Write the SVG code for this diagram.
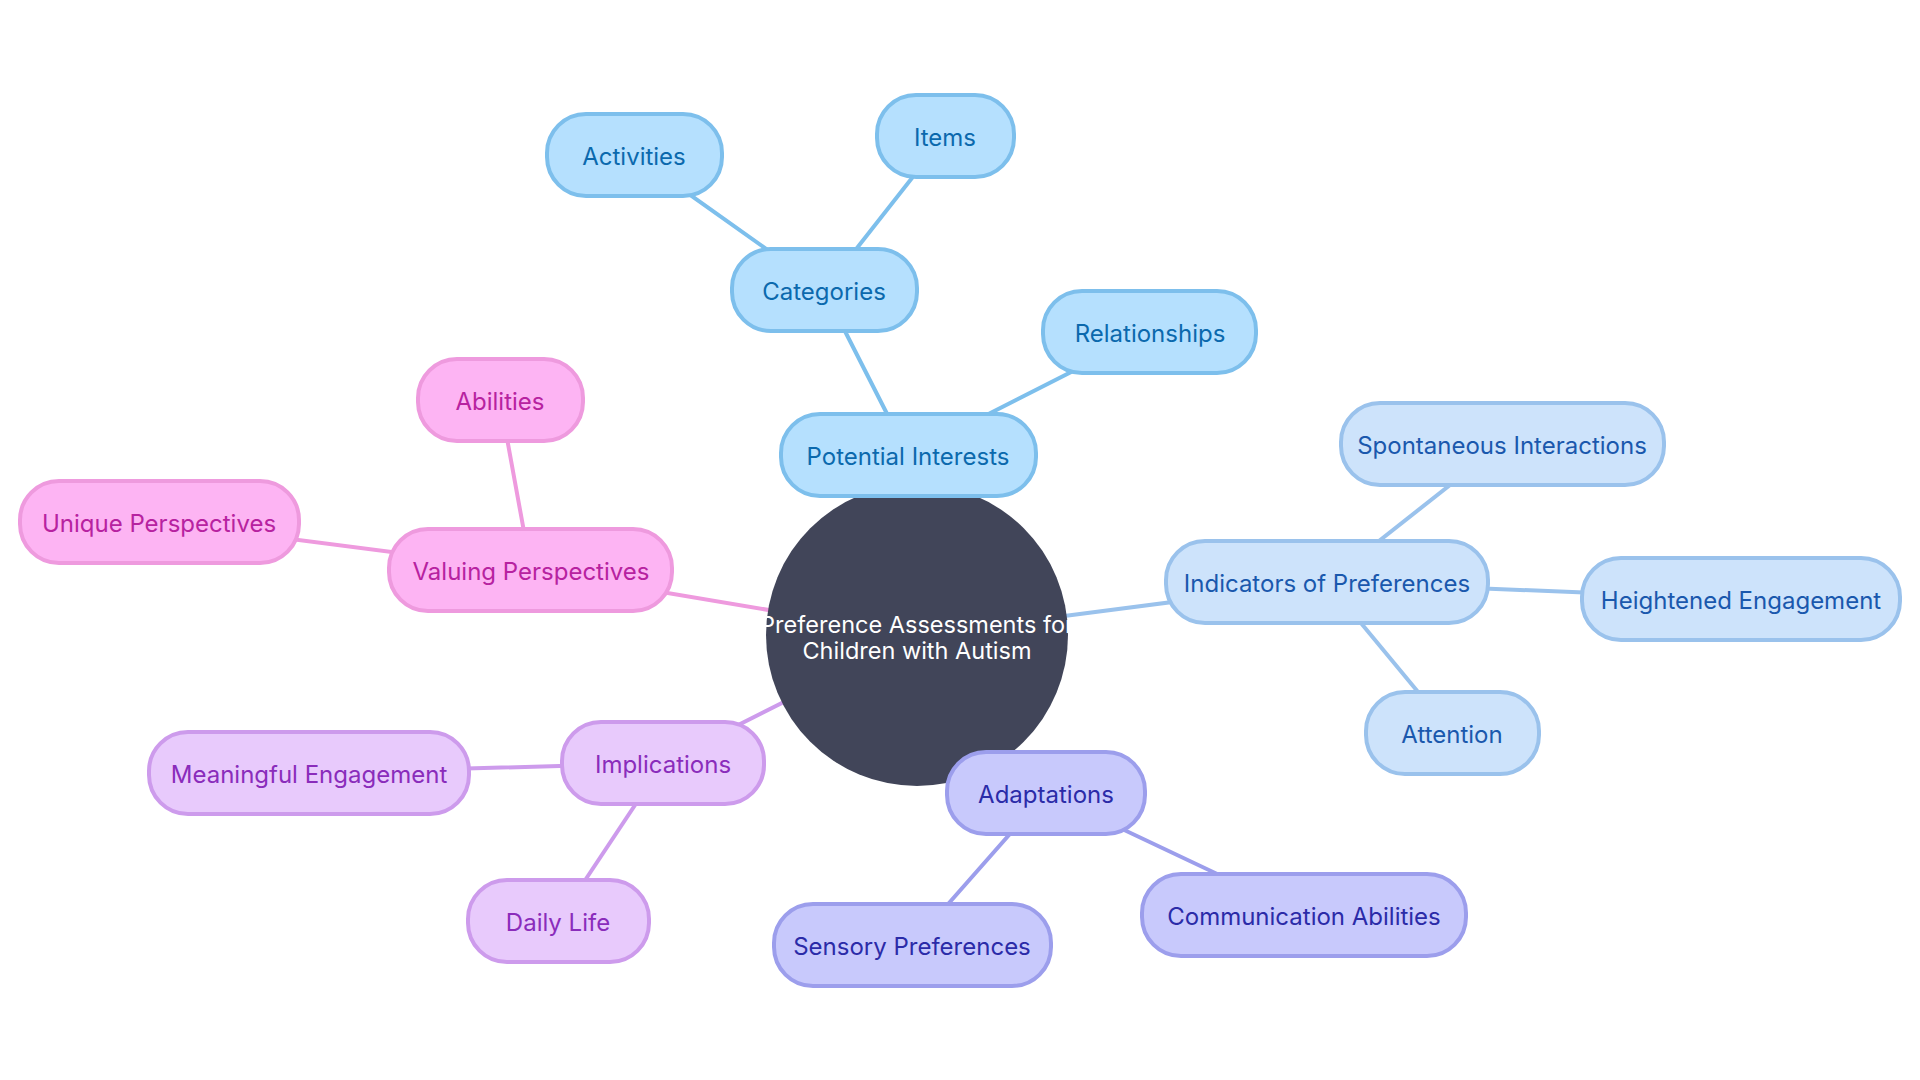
<svg xmlns="http://www.w3.org/2000/svg" width="1920" height="1080" viewBox="0 0 1920 1080">
<style>
text{font-family:Inter,"Noto Sans","Liberation Sans",sans-serif;font-size:24px;text-anchor:middle;dominant-baseline:central}
.n rect{stroke-width:4}
.c line{stroke-width:4;stroke-linecap:round}
.b1 rect{fill:#b5e0fe;stroke:#7dbfec}.b1 text{fill:#0b69ad}
.b2 rect{fill:#cde3fb;stroke:#9ac2ec}.b2 text{fill:#1a58ad}
.b3 rect{fill:#c8c9fc;stroke:#9c9eec}.b3 text{fill:#2b2ba8}
.b4 rect{fill:#e8cafc;stroke:#cd9bec}.b4 text{fill:#8a2cbb}
.b5 rect{fill:#fdb4f3;stroke:#ee9ade}.b5 text{fill:#b722a0}
</style>
<rect width="1920" height="1080" fill="#ffffff"/>
<g id="connectors" class="c">
<g stroke="#7dbfec">
<line x1="917" y1="635" x2="908" y2="455"/>
<line x1="824" y1="290" x2="908" y2="455"/>
<line x1="634" y1="155" x2="824" y2="290"/>
<line x1="945" y1="136" x2="824" y2="290"/>
<line x1="1150" y1="332" x2="908" y2="455"/>
</g>
<g stroke="#9ac2ec">
<line x1="917" y1="635" x2="1327" y2="582"/>
<line x1="1327" y1="582" x2="1502" y2="444"/>
<line x1="1327" y1="582" x2="1741" y2="599"/>
<line x1="1327" y1="582" x2="1452" y2="733"/>
</g>
<g stroke="#9c9eec">
<line x1="917" y1="635" x2="1046" y2="793"/>
<line x1="1046" y1="793" x2="1304" y2="915"/>
<line x1="1046" y1="793" x2="912" y2="945"/>
</g>
<g stroke="#cd9bec">
<line x1="917" y1="635" x2="663" y2="763"/>
<line x1="663" y1="763" x2="309" y2="773"/>
<line x1="663" y1="763" x2="558" y2="921"/>
</g>
<g stroke="#ee9ade">
<line x1="917" y1="635" x2="531" y2="570"/>
<line x1="531" y1="570" x2="159" y2="522"/>
<line x1="531" y1="570" x2="500" y2="400"/>
</g>
</g>
<g id="root">
<circle cx="917" cy="635" r="151" fill="#414559"/>
<text x="917" y="624" fill="#ffffff" style="font-size:23.5px">Preference Assessments for</text>
<text x="917" y="650" fill="#ffffff" style="font-size:23.5px">Children with Autism</text>
</g>
<g id="potential-interests" class="n b1"><rect x="781" y="414" width="255" height="82" rx="39"/><text x="908" y="456">Potential Interests</text></g>
<g id="categories" class="n b1"><rect x="732" y="249" width="185" height="82" rx="39"/><text x="824" y="291">Categories</text></g>
<g id="activities" class="n b1"><rect x="547" y="114" width="175" height="82" rx="39"/><text x="634" y="156">Activities</text></g>
<g id="items" class="n b1"><rect x="877" y="95" width="137" height="82" rx="39"/><text x="945" y="137">Items</text></g>
<g id="relationships" class="n b1"><rect x="1043" y="291" width="213" height="82" rx="39"/><text x="1150" y="333">Relationships</text></g>
<g id="indicators" class="n b2"><rect x="1166" y="541" width="322" height="82" rx="39"/><text x="1327" y="583">Indicators of Preferences</text></g>
<g id="spontaneous" class="n b2"><rect x="1341" y="403" width="323" height="82" rx="39"/><text x="1502" y="445">Spontaneous Interactions</text></g>
<g id="heightened" class="n b2"><rect x="1582" y="558" width="318" height="82" rx="39"/><text x="1741" y="600">Heightened Engagement</text></g>
<g id="attention" class="n b2"><rect x="1366" y="692" width="173" height="82" rx="39"/><text x="1452" y="734">Attention</text></g>
<g id="adaptations" class="n b3"><rect x="947" y="752" width="198" height="82" rx="39"/><text x="1046" y="794">Adaptations</text></g>
<g id="communication" class="n b3"><rect x="1142" y="874" width="324" height="82" rx="39"/><text x="1304" y="916">Communication Abilities</text></g>
<g id="sensory" class="n b3"><rect x="774" y="904" width="277" height="82" rx="39"/><text x="912" y="946">Sensory Preferences</text></g>
<g id="implications" class="n b4"><rect x="562" y="722" width="202" height="82" rx="39"/><text x="663" y="764">Implications</text></g>
<g id="meaningful" class="n b4"><rect x="149" y="732" width="320" height="82" rx="39"/><text x="309" y="774">Meaningful Engagement</text></g>
<g id="daily-life" class="n b4"><rect x="468" y="880" width="181" height="82" rx="39"/><text x="558" y="922">Daily Life</text></g>
<g id="valuing" class="n b5"><rect x="389" y="529" width="283" height="82" rx="39"/><text x="531" y="571">Valuing Perspectives</text></g>
<g id="unique" class="n b5"><rect x="20" y="481" width="279" height="82" rx="39"/><text x="159" y="523">Unique Perspectives</text></g>
<g id="abilities" class="n b5"><rect x="418" y="359" width="165" height="82" rx="39"/><text x="500" y="401">Abilities</text></g>
</svg>
